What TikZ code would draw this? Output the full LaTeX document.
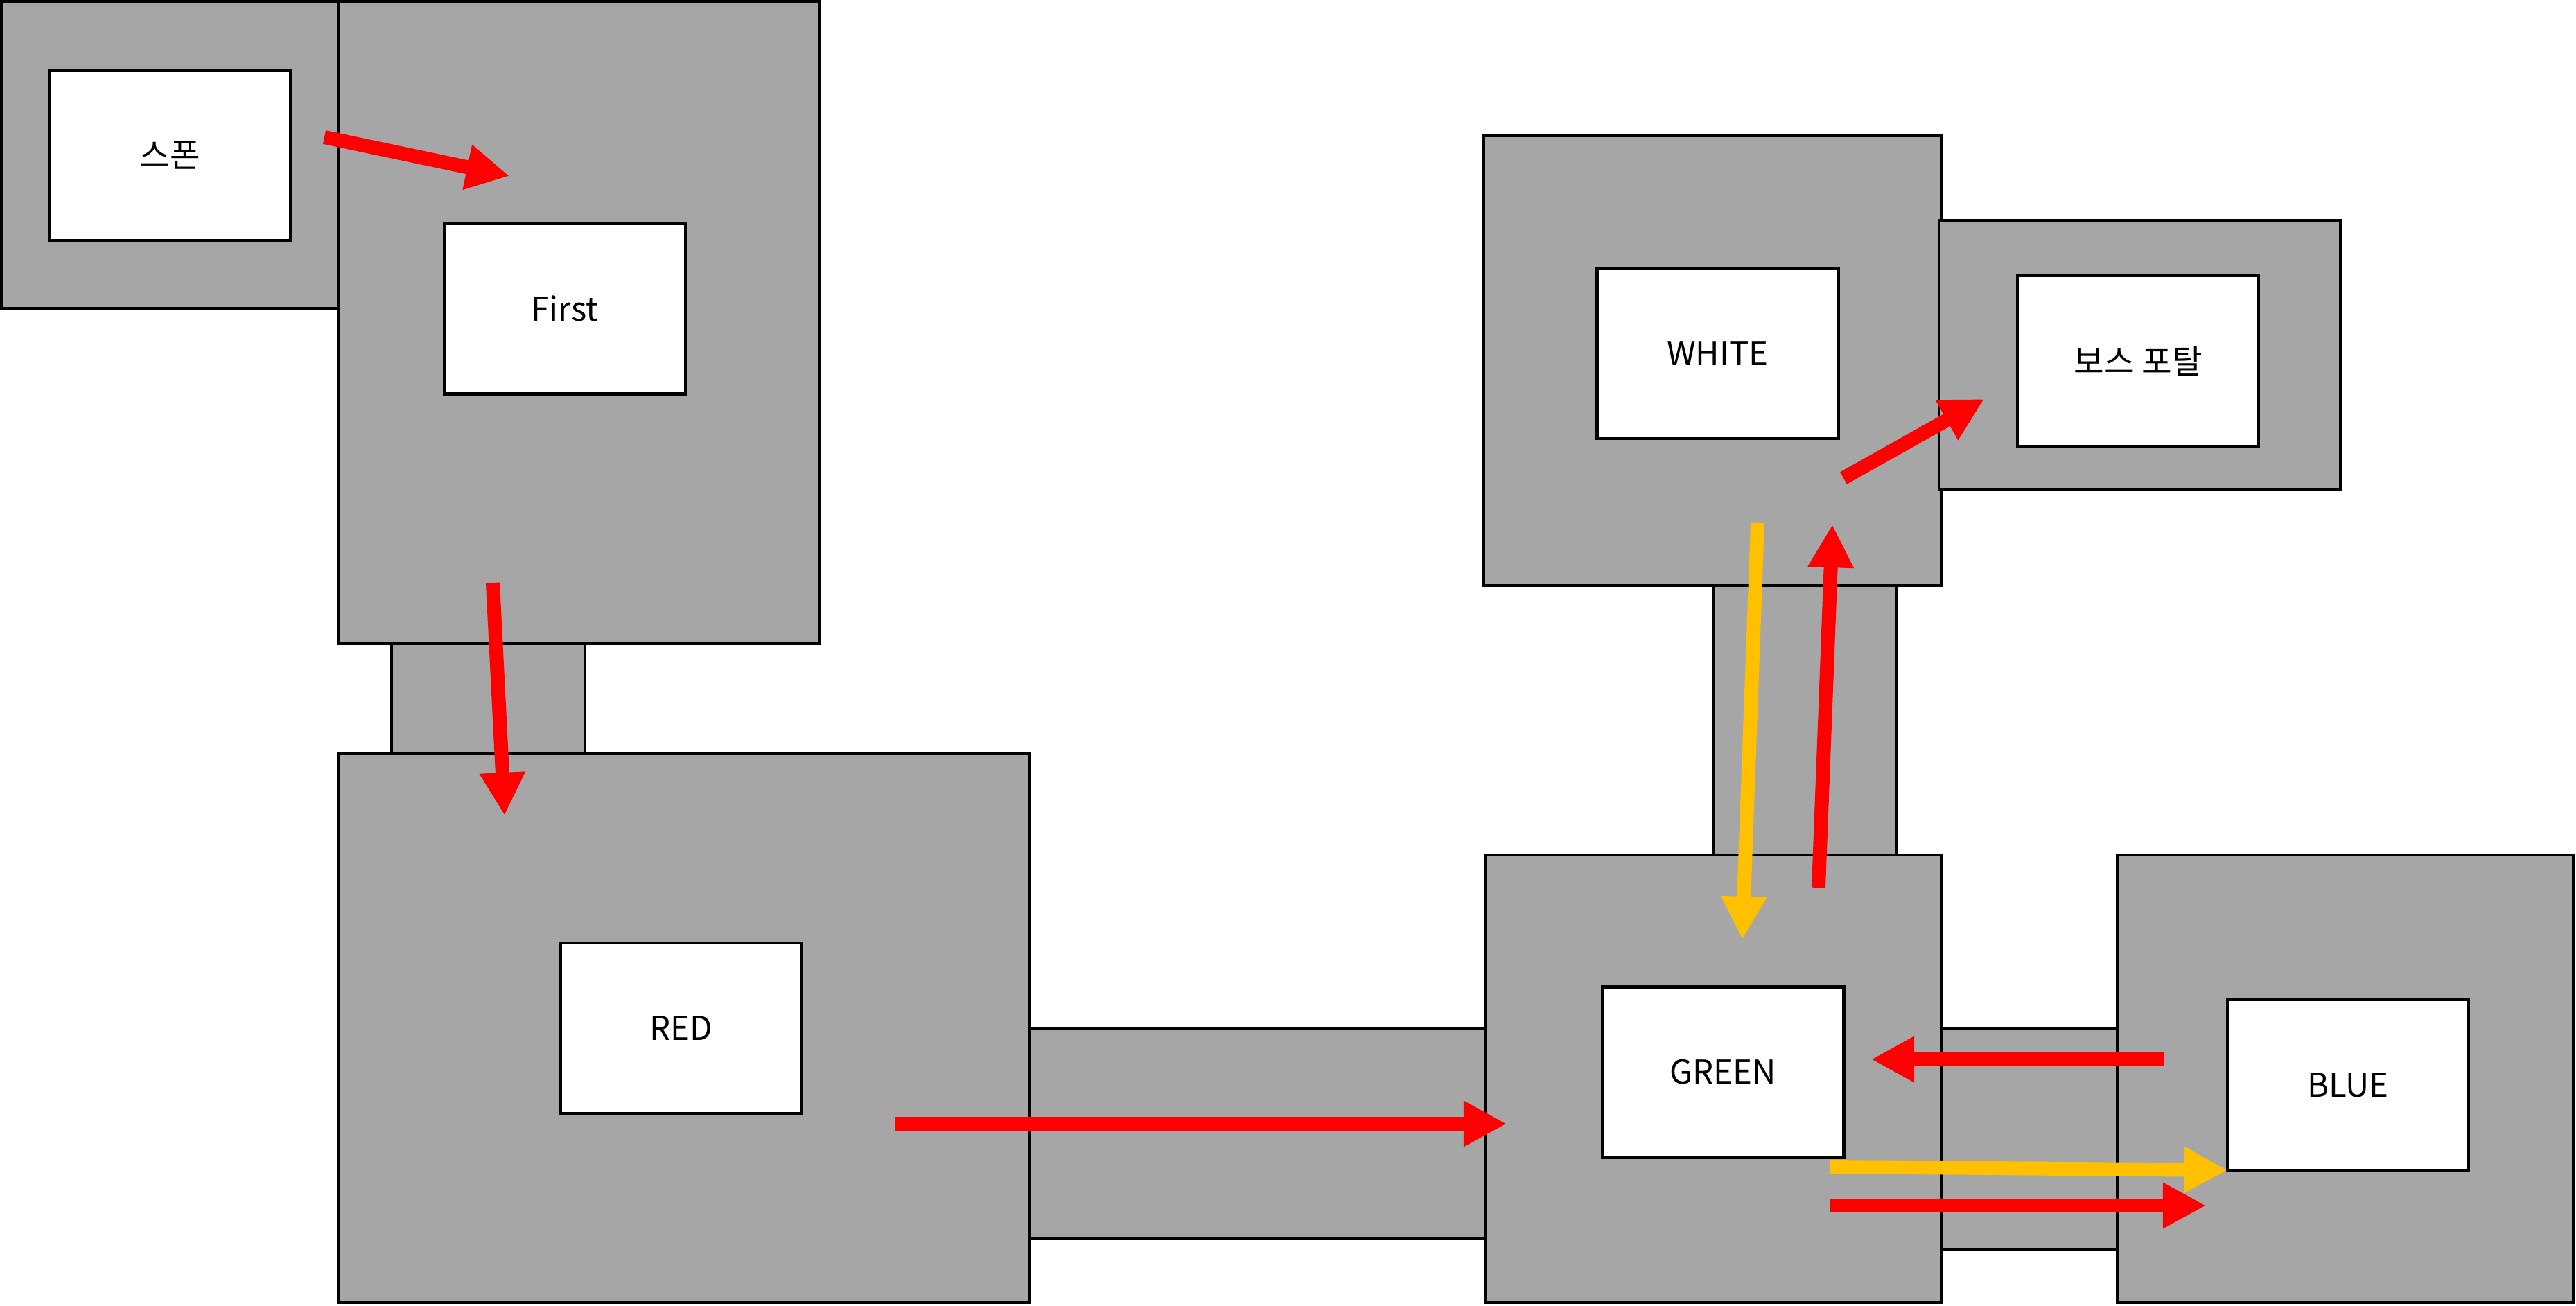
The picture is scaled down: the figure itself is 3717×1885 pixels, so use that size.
\documentclass[tikz,border=0pt]{standalone}
\usepackage{fontspec}
\setmainfont{Noto Sans CJK KR}
\usetikzlibrary{arrows.meta}
\definecolor{roomgray}{HTML}{A6A6A6}
\definecolor{arrred}{HTML}{FF0000}
\definecolor{arryel}{HTML}{FFC000}
\tikzset{
  room/.style={draw=black, fill=roomgray, line width=0.046cm},
  label box/.style={draw=black, fill=white, line width=0.046cm, minimum width=3.48cm, minimum height=2.46cm, inner sep=0pt, font=\fontsize{13.5pt}{16pt}\selectfont},
  flow/.style={line width=0.2cm, -{Triangle[length=0.62cm,width=0.62cm]}},
  redflow/.style={flow, draw=arrred, color=arrred},
  yelflow/.style={flow, draw=arryel, color=arryel}
}
\begin{document}
\begin{tikzpicture}[x=0.01cm, y=-0.01cm]
\useasboundingbox (0,0) rectangle (3717,1885);
% corridors
\draw[room] (565,929) rectangle (844,1088);
\draw[room] (1486,1485) rectangle (2143,1788);
\draw[room] (2473,845) rectangle (2737,1234);
\draw[room] (2802,1485) rectangle (3055,1803);
% rooms
\draw[room] (2,2) rectangle (488,445);
\draw[room] (488,2) rectangle (1183,929);
\draw[room] (488,1088) rectangle (1486,1880);
\draw[room] (2143,1234) rectangle (2802,1880);
\draw[room] (3055,1234) rectangle (3713,1880);
\draw[room] (2141,196) rectangle (2802,845);
\draw[room] (2798,318) rectangle (3377,707);
% label boxes
\node[label box] (spawn) at (245.5,224.5) {스폰};
\node[label box] (first) at (815,445.5) {First};
\node[label box] (red) at (982.5,1484) {RED};
\node[label box] (green) at (2486.5,1547.5) {GREEN};
\node[label box] (blue) at (3388,1566) {BLUE};
\node[label box] (white) at (2478.5,510) {WHITE};
\node[label box] (boss) at (3085,521) {보스 포탈};
% arrow end points
\coordinate (a1s) at (468,198);   \coordinate (a1e) at (735,254);
\coordinate (a2s) at (711,841);   \coordinate (a2e) at (728,1177);
\coordinate (a3s) at (1292,1622); \coordinate (a3e) at (2174,1622);
\coordinate (a4s) at (2536,755);  \coordinate (a4e) at (2514,1356);
\coordinate (a5s) at (2624,1281); \coordinate (a5e) at (2644,757);
\coordinate (a6s) at (2660,690);  \coordinate (a6e) at (2863,576);
\coordinate (a7s) at (3122,1529); \coordinate (a7e) at (2700,1529);
\coordinate (a8s) at (2641,1684); \coordinate (a8e) at (3214,1689);
\coordinate (a9s) at (2641,1740); \coordinate (a9e) at (3183,1740);
% arrows
\draw[redflow] (a1s) -- (a1e);
\draw[redflow] (a2s) -- (a2e);
\draw[redflow] (a3s) -- (a3e);
\draw[yelflow] (a4s) -- (a4e);
\draw[redflow] (a5s) -- (a5e);
\draw[redflow] (a6s) -- (a6e);
\draw[redflow] (a7s) -- (a7e);
\draw[yelflow] (a8s) -- (a8e);
\draw[redflow] (a9s) -- (a9e);
\end{tikzpicture}
\end{document}
